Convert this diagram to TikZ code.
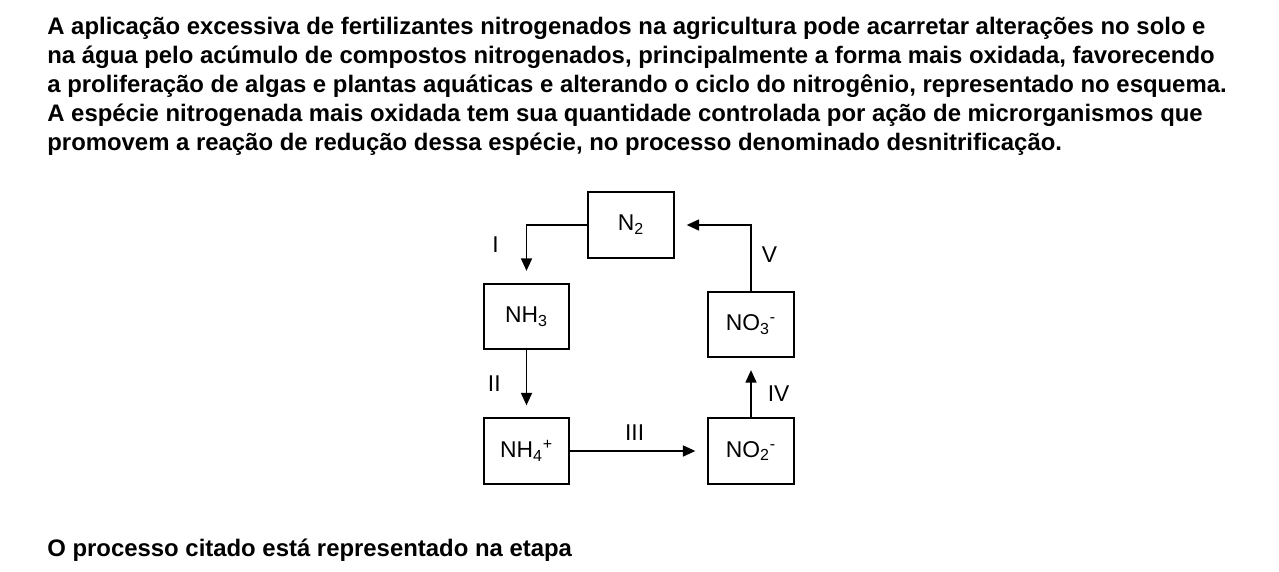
\documentclass[tikz,border=0pt]{standalone}
\usepackage{fontspec}
\setmainfont{Liberation Sans}
\usetikzlibrary{arrows.meta, positioning}

\begin{document}
\begin{tikzpicture}[shorten >=0.24cm, node distance=2cm, on grid, auto,
		species/.style={draw, line width=1pt, minimum width=1.71cm, minimum height=1.31cm, font=\fontsize{13}{15}\selectfont},
		flow/.style={-{Triangle[length=0.25cm,width=0.22cm]}, line width=1pt},
		stage/.style={font=\fontsize{13}{15}\selectfont, inner sep=0pt}]
			\useasboundingbox (0,0) rectangle (25.58,-11.44);
			\node[anchor=north west, inner sep=0pt, align=left, font=\fontsize{13.6}{16.6}\selectfont\bfseries] (intro) at (0.94,-0.33)
				{A aplicação excessiva de fertilizantes nitrogenados na agricultura pode acarretar alterações no solo e\\
				na água pelo acúmulo de compostos nitrogenados, principalmente a forma mais oxidada, favorecendo\\
				a proliferação de algas e plantas aquáticas e alterando o ciclo do nitrogênio, representado no esquema.\\
				A espécie nitrogenada mais oxidada tem sua quantidade controlada por ação de microrganismos que\\
				promovem a reação de redução dessa espécie, no processo denominado desnitrificação.};
			\node[species] (N2) at (12.62,-4.5) {N\textsubscript{2}};
			\node[species] (NH3) [below left=1.83cm and 2.09cm of N2] {NH\textsubscript{3}};
			\node[species] (NH4) [below=2.69cm of NH3] {NH\textsubscript{4}\textsuperscript{+}};
			\node[species] (NO2) [right=4.49cm of NH4] {NO\textsubscript{2}\textsuperscript{-}};
			\node[species] (NO3) [above=2.53cm of NO2] {NO\textsubscript{3}\textsuperscript{-}};
			\draw[flow] (N2.west) -| node[stage, pos=0.67, left=0.54cm] {I} (NH3.north);
			\draw[flow] (NH3.south) -- node[stage, pos=0.5, left=0.5cm] {II} (NH4.north);
			\draw[flow] (NH4.east) -- node[stage, pos=0.47, above=0.2cm] {III} (NO2.west);
			\draw[flow] (NO2.north) -- node[stage, pos=0.4, right=0.32cm] {IV} (NO3.south);
			\draw[flow] (NO3.north) |- node[stage, pos=0.277, right=0.2cm] {V} (N2.east);
			\node[anchor=base west, inner sep=0pt, font=\fontsize{13.6}{16.6}\selectfont\bfseries] (question) at (0.94,-11.12)
				{O processo citado está representado na etapa};
		\end{tikzpicture}
\end{document}
